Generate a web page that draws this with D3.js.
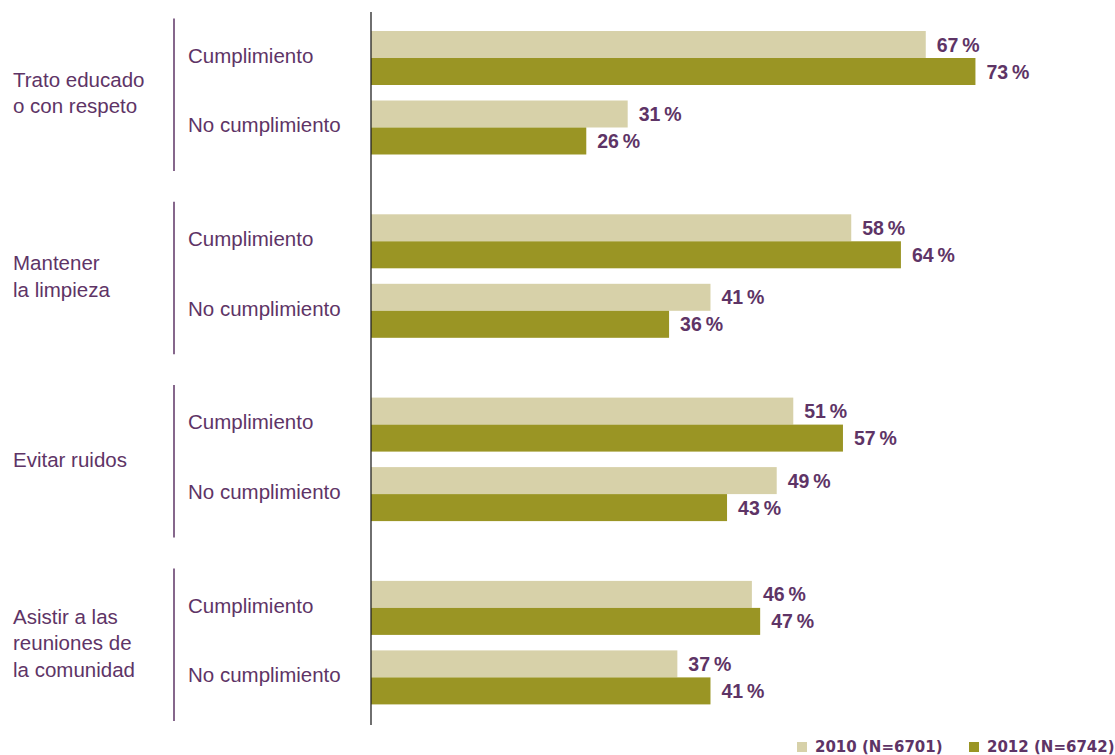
<!DOCTYPE html>
<html>
<head>
<meta charset="utf-8">
<script src="https://cdn.jsdelivr.net/npm/d3@7"></script>
<style>
  html, body { margin: 0; padding: 0; background: #fff; }
  svg { display: block; }
</style>
</head>
<body>
<svg id="chart" width="1115" height="755"></svg>
<script>
// ---- data ----
const groups = ["Trato educado\no con respeto", "Mantener\nla limpieza", "Evitar ruidos", "Asistir a las\nreuniones de\nla comunidad"];
const subcats = ["Cumplimiento", "No cumplimiento"];
const seriesNames = ["2010 (N=6701)", "2012 (N=6742)"];
// values[group][subcat]
const values2010 = [[67, 31], [58, 41], [51, 49], [46, 37]];
const values2012 = [[73, 26], [64, 36], [57, 43], [47, 41]];
const colors = ["#d7d1a9", "#9a9524"];
const textColor = "#5e3466";

const svg = d3.select("#chart");
const fontFamily = "'Liberation Sans', Arial, sans-serif";

const x = d3.scaleLinear().domain([0, 100]).range([371, 1199]);
const yGroup = d3.scaleBand().domain(d3.range(groups.length)).range([2, 2 + 183.3 * 4]).paddingInner(0);
const ySub = d3.scaleBand().domain(subcats).range([29, 152.5]).paddingInner(15.5 / 69.5).paddingOuter(0);
const ySeries = d3.scaleBand().domain([0, 1]).range([0, ySub.bandwidth()]);

const rows = [];
groups.forEach((g, gi) => {
  subcats.forEach((s, si) => {
    [values2010[gi][si], values2012[gi][si]].forEach((v, k) => {
      rows.push({ gi, s, k, v });
    });
  });
});

// bars
svg.append("g").selectAll("rect").data(rows).join("rect")
  .attr("x", x(0))
  .attr("y", d => yGroup(d.gi) + ySub(d.s) + ySeries(d.k))
  .attr("width", d => x(d.v) - x(0))
  .attr("height", ySeries.bandwidth())
  .attr("fill", d => colors[d.k]);

// value labels
svg.append("g").selectAll("text").data(rows).join("text")
  .attr("x", d => x(d.v) + 11)
  .attr("y", d => yGroup(d.gi) + ySub(d.s) + ySeries(d.k) + ySeries.bandwidth() / 2)
  .attr("dy", "0.36em")
  .attr("fill", textColor)
  .attr("font-family", fontFamily)
  .attr("font-weight", "bold")
  .attr("font-size", "19.5px")
  .text(d => d.v + "\u2009%");

// axis line
svg.append("line")
  .attr("x1", x(0)).attr("x2", x(0))
  .attr("y1", 12).attr("y2", 725)
  .attr("stroke", "#222").attr("stroke-width", 1.3);

// group brackets and labels
groups.forEach((g, gi) => {
  const top = yGroup(gi);
  svg.append("line")
    .attr("x1", 174).attr("x2", 174)
    .attr("y1", top + 16.5).attr("y2", top + 169)
    .attr("stroke", textColor).attr("stroke-width", 1.5);
  const lines = g.split("\n");
  const center = top + ySub("Cumplimiento") + (ySub("No cumplimiento") + ySub.bandwidth() - ySub("Cumplimiento")) / 2;
  const lh = 26.5;
  const t = svg.append("text")
    .attr("fill", textColor)
    .attr("font-family", fontFamily)
    .attr("font-size", "20.5px");
  lines.forEach((ln, i) => {
    t.append("tspan")
      .attr("x", 13)
      .attr("y", center + (i - (lines.length - 1) / 2) * lh)
      .attr("dy", "0.36em")
      .text(ln);
  });
  subcats.forEach(s => {
    svg.append("text")
      .attr("x", 188)
      .attr("y", top + ySub(s) + ySub.bandwidth() / 2 - 2.5)
      .attr("dy", "0.36em")
      .attr("fill", textColor)
      .attr("font-family", fontFamily)
      .attr("font-size", "20.5px")
      .text(s);
  });
});

// legend
const legendX = [797, 969];
seriesNames.forEach((n, k) => {
  svg.append("rect")
    .attr("x", legendX[k]).attr("y", 742)
    .attr("width", 10).attr("height", 10)
    .attr("fill", colors[k]);
  svg.append("text")
    .attr("x", legendX[k] + 18).attr("y", 747)
    .attr("dy", "0.36em")
    .attr("fill", textColor)
    .attr("font-family", "'DejaVu Sans', sans-serif")
    .attr("font-weight", "bold")
    .attr("font-size", "15px")
    .text(n);
});
</script>
</body>
</html>
